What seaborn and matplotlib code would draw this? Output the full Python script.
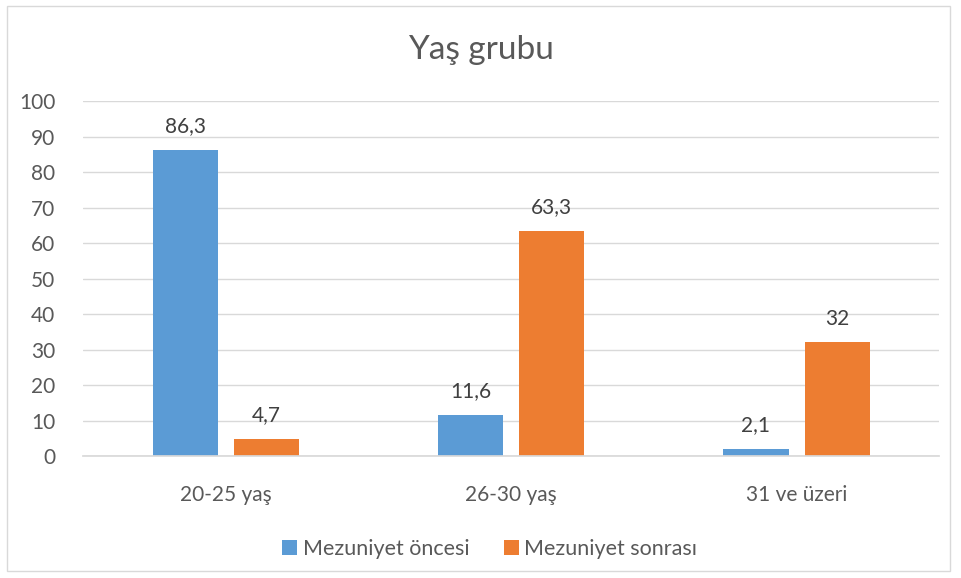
import pandas as pd
import matplotlib.pyplot as plt
import seaborn as sns
from matplotlib.patches import Rectangle

categories = ['20-25 yaş', '26-30 yaş', '31 ve üzeri']
oncesi = [86.3, 11.6, 2.1]
sonrasi = [4.7, 63.3, 32]
series = ['Mezuniyet öncesi', 'Mezuniyet sonrası']
labels_oncesi = ['86,3', '11,6', '2,1']
labels_sonrasi = ['4,7', '63,3', '32']

df = pd.DataFrame({
    'Yaş': categories * 2,
    'Değer': oncesi + sonrasi,
    'Seri': [series[0]] * 3 + [series[1]] * 3,
})

sns.set_theme(style='white')
plt.rcParams['font.family'] = ['Lato', 'DejaVu Sans']
text_color = '#595959'

fig = plt.figure(figsize=(9.61, 5.78), dpi=100)
ax = fig.add_axes([0.0865, 0.211, 0.891, 0.614])

sns.barplot(data=df, x='Yaş', y='Değer', hue='Seri',
            palette=['#5B9BD5', '#ED7D31'], saturation=1, width=0.57, gap=0.2,
            linewidth=0, edgecolor='none', ax=ax, legend=True)

ax.set_ylim(0, 100)
ax.set_yticks(range(0, 101, 10))
ax.yaxis.grid(True, color='#D9D9D9', linewidth=1)
ax.set_axisbelow(True)
for s in ['top', 'right', 'left']:
    ax.spines[s].set_visible(False)
ax.spines['bottom'].set_color('#D9D9D9')
ax.set_xlabel('')
ax.set_ylabel('')
ax.tick_params(axis='both', length=0, colors=text_color, labelsize=15)
ax.tick_params(axis='x', pad=21)
ax.tick_params(axis='y', pad=20)

for cont, labs in zip(ax.containers, [labels_oncesi, labels_sonrasi]):
    ax.bar_label(cont, labels=labs, padding=10, color='#404040', fontsize=15)

ax.legend(loc='upper center', bbox_to_anchor=(0.475, -0.18), ncol=2, frameon=False,
          fontsize=15.5, labelcolor=text_color, handlelength=0.7, handleheight=0.7,
          handletextpad=0.25, columnspacing=1.6)

fig.text(0.5, 0.913, 'Yaş grubu', ha='center', va='center', fontsize=24, color=text_color)
fig.patches.append(Rectangle((0.007, 0.012), 0.982, 0.978, transform=fig.transFigure,
                             fill=False, edgecolor='#D9D9D9', linewidth=1))

fig.savefig('out.png', dpi=100)
